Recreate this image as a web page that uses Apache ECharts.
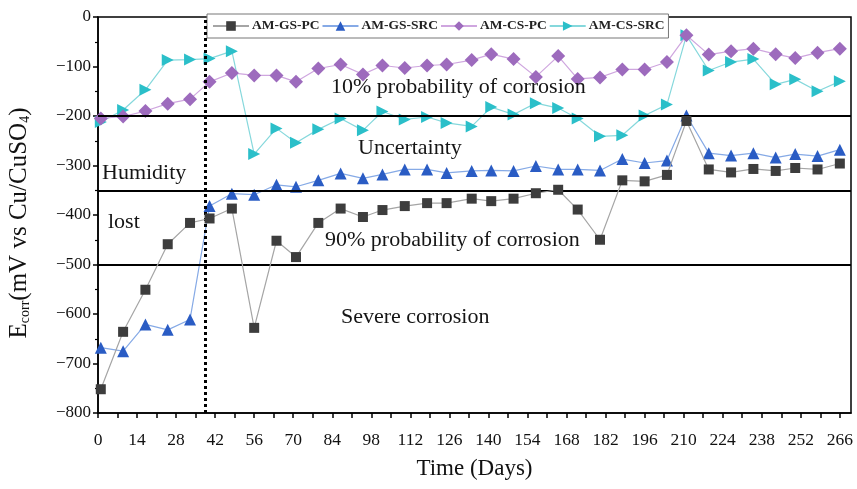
<!DOCTYPE html>
<html><head><meta charset="utf-8">
<script src="https://cdn.jsdelivr.net/npm/echarts@6/dist/echarts.min.js"></script>
<style>html,body{margin:0;padding:0;background:#fff}#c{width:857px;height:489px}</style>
</head><body><div id="c"></div>
<script>
const days = [1, 9, 17, 25, 33, 40, 48, 56, 64, 71, 79, 87, 95, 102, 110, 118, 125, 134, 141, 149, 157, 165, 172, 180, 188, 196, 204, 211, 219, 227, 235, 243, 250, 258, 266];
const gsPC = [-752, -636, -551, -459, -416, -407, -387, -628, -452, -485, -416, -387, -404, -390, -382, -376, -376, -367, -372, -367, -356, -349, -389, -450, -330, -332, -319, -210, -308, -314, -307, -311, -305, -308, -296];
const gsSRC = [-668, -675, -621, -632, -611, -382, -357, -359, -339, -343, -330, -316, -326, -318, -308, -308, -315, -311, -310, -311, -301, -308, -308, -310, -287, -295, -290, -199, -275, -280, -275, -284, -277, -281, -268];
const csPC = [-205, -201, -190, -175, -166, -131, -113, -118, -118, -131, -104, -96, -116, -98, -103, -98, -96, -87, -75, -85, -121, -79, -125, -122, -106, -106, -91, -37, -76, -69, -64, -75, -83, -72, -64];
const csSRC = [-212, -188, -147, -87, -86, -84, -69, -277, -225, -254, -227, -205, -229, -191, -207, -202, -214, -221, -182, -197, -174, -184, -205, -241, -239, -199, -177, -37, -108, -91, -85, -136, -126, -150, -130];
const seriesNames = ['AM-GS-PC', 'AM-GS-SRC', 'AM-CS-PC', 'AM-CS-SRC'];
const thresholds = [-200, -350, -500];
const humidityLostDay = 38.5;
const xTicks = [0, 14, 28, 42, 56, 70, 84, 98, 112, 126, 140, 154, 168, 182, 196, 210, 224, 238, 252, 266];

const serif = '"Liberation Serif", "DejaVu Serif", serif';
const zip = (xs, ys) => xs.map((x, i) => [x, ys[i]]);
const chart = echarts.init(document.getElementById('c'));
const rightTri = 'path://M0,0 L10,5 L0,10 Z';
const note = (text, left, top) => ({type: 'text', left: left, top: top, z: 100,
  style: {text: text, font: '22px ' + serif, fill: '#151515'}});
chart.setOption({
  animation: false,
  backgroundColor: '#fff',
  grid: {left: 98, right: 6, top: 17, bottom: 76, outerBoundsMode: 'none', containLabel: false,
    show: true, borderColor: '#000', borderWidth: 1.5},
  legend: {
    left: 207, top: 14, width: 480,
    data: seriesNames,
    itemGap: 2, itemWidth: 36, itemHeight: 12,
    borderColor: '#777', borderWidth: 1, padding: [5, 4, 5, 5],
    backgroundColor: '#fff',
    textStyle: {fontFamily: serif, fontSize: 13.5, fontWeight: 'bold', color: '#222', padding: [0, 0, 0, -2]}
  },
  xAxis: {
    type: 'value', min: 0, max: 270, interval: 7,
    axisLine: {onZero: false, lineStyle: {color: '#000', width: 1.5}},
    axisTick: {show: true, length: 5, inside: false, lineStyle: {color: '#000', width: 1.5}},
    splitLine: {show: false},
    axisLabel: {
      fontFamily: serif, fontSize: 17.5, color: '#111', margin: 18, showMaxLabel: false,
      formatter: v => xTicks.indexOf(v) >= 0 ? String(v) : ''
    },
    name: 'Time (Days)', nameLocation: 'middle', nameGap: 44,
    nameTextStyle: {fontFamily: serif, fontSize: 23, color: '#111'}
  },
  yAxis: {
    type: 'value', min: -800, max: 0, interval: 100,
    axisLine: {show: true, onZero: false, lineStyle: {color: '#000', width: 1.5}},
    axisTick: {show: true, length: 5, lineStyle: {color: '#000', width: 1.5}},
    minorTick: {show: true, splitNumber: 2, length: 3, lineStyle: {color: '#000', width: 1.2}},
    splitLine: {show: false},
    axisLabel: {fontFamily: serif, fontSize: 17, color: '#111', margin: 7,
      formatter: v => String(v).replace('-', '\u2212')},
    name: '{m|E}{s|corr}{m|(mV vs Cu/CuSO}{s|4}{m|)}', nameLocation: 'middle', nameGap: 66, nameRotate: 90,
    nameTextStyle: {padding: [0, 16, 0, 0], rich: {
      m: {fontFamily: serif, fontSize: 25, color: '#111'},
      s: {fontFamily: serif, fontSize: 14, color: '#111', verticalAlign: 'bottom', padding: [12, 0, 0, 0]}
    }}
  },
  series: [
    {name: 'AM-GS-PC', type: 'line', data: zip(days, gsPC), symbol: 'rect', symbolSize: 10,
      itemStyle: {color: '#3d3d3d'}, lineStyle: {color: '#a5a5a5', width: 1.2}, z: 5,
      markLine: {silent: true, symbol: 'none', label: {show: false},
        data: thresholds.map(t => ({yAxis: t})).concat([{xAxis: humidityLostDay, lineStyle: {type: [3, 3], width: 3, color: '#000'}}]),
        lineStyle: {color: '#000', width: 2, type: 'solid'}}},
    {name: 'AM-GS-SRC', type: 'line', data: zip(days, gsSRC), symbol: 'triangle', symbolSize: 12,
      itemStyle: {color: '#2a5cc4'}, lineStyle: {color: '#86aae6', width: 1.2}, z: 4},
    {name: 'AM-CS-PC', type: 'line', data: zip(days, csPC), symbol: 'diamond', symbolSize: 14,
      itemStyle: {color: '#9d6bbd'}, lineStyle: {color: '#cfa6df', width: 1.2}, z: 3},
    {name: 'AM-CS-SRC', type: 'line', data: zip(days, csSRC), symbol: rightTri, symbolSize: 12,
      itemStyle: {color: '#2bbfc9'}, lineStyle: {color: '#86d8dc', width: 1.2}, z: 2}
  ],
  graphic: [
    note('10% probability of corrosion', 331, 76),
    note('Uncertainty', 358, 137),
    note('Humidity', 102, 162),
    note('lost', 108, 211),
    note('90% probability of corrosion', 325, 229),
    note('Severe corrosion', 341, 306)
  ]
});
</script></body></html>
